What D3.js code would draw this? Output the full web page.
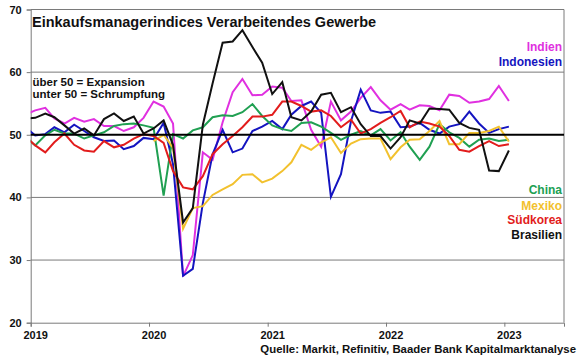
<!DOCTYPE html>
<html><head><meta charset="utf-8">
<script src="https://cdn.jsdelivr.net/npm/d3@7"></script>
<style>
html,body{margin:0;padding:0;background:#fff;}
svg{display:block;font-family:"Liberation Sans",Arial,sans-serif;font-weight:bold;}
</style></head>
<body><svg id="c" width="580" height="359"></svg>
<script>
// Months (mid-month), Dec 2018 .. Jan 2023
const months = [
 "2018-12",
 "2019-01","2019-02","2019-03","2019-04","2019-05","2019-06","2019-07","2019-08","2019-09","2019-10","2019-11","2019-12",
 "2020-01","2020-02","2020-03","2020-04","2020-05","2020-06","2020-07","2020-08","2020-09","2020-10","2020-11","2020-12",
 "2021-01","2021-02","2021-03","2021-04","2021-05","2021-06","2021-07","2021-08","2021-09","2021-10","2021-11","2021-12",
 "2022-01","2022-02","2022-03","2022-04","2022-05","2022-06","2022-07","2022-08","2022-09","2022-10","2022-11","2022-12",
 "2023-01"];
const indien = [53.2,
 53.9,54.3,52.6,51.8,52.7,52.1,52.5,51.4,51.4,50.6,51.2,52.7,
 55.3,54.5,51.8,27.4,30.8,47.2,46.0,52.0,56.8,58.9,56.3,56.4,
 57.7,57.5,55.4,55.5,50.8,48.1,55.3,52.3,53.7,55.9,57.6,55.5,
 54.0,54.9,54.0,54.7,54.6,53.9,56.4,56.2,55.1,55.3,55.7,57.8,
 55.4];
const indonesien = [51.2,
 49.9,50.1,51.2,50.4,51.6,50.6,49.6,49.0,49.1,47.7,48.2,49.5,
 49.3,51.9,45.3,27.5,28.6,39.1,46.9,50.8,47.2,47.8,50.6,51.3,
 52.2,50.9,53.2,54.6,55.3,53.5,40.1,43.7,52.2,57.2,53.9,53.5,
 53.7,51.2,51.3,51.9,50.8,50.2,51.3,51.7,53.7,51.8,50.3,50.9,
 51.3];
const china = [49.7,
 48.3,49.9,50.8,50.2,50.2,49.4,49.9,50.4,51.4,51.7,51.8,51.5,
 51.1,40.3,50.1,49.4,50.7,51.2,52.8,53.1,53.0,53.6,54.9,53.0,
 51.5,50.9,50.6,51.9,52.0,51.3,50.3,49.2,50.0,50.6,49.9,50.9,
 49.1,50.4,48.1,46.0,48.1,51.7,50.4,49.5,48.1,49.2,49.4,49.0,
 49.2];
const mexiko = [null,
 null,null,null,null,null,null,null,null,null,null,null,null,
 49.0,50.0,47.9,35.0,38.3,38.6,40.4,41.3,42.1,43.6,43.7,42.4,
 43.0,44.2,45.6,48.4,47.6,48.8,49.6,47.1,48.6,49.3,49.4,49.4,
 46.1,48.0,49.2,49.3,50.6,52.2,48.5,48.5,50.3,50.3,50.6,51.3,
 48.9];
const suedkorea = [49.8,
 48.3,47.2,48.8,50.2,48.4,47.5,47.3,49.0,48.0,48.4,49.4,50.1,
 49.8,48.7,44.2,41.6,41.3,43.4,46.9,48.5,49.8,51.2,52.9,52.9,
 53.2,55.3,55.3,54.6,53.7,53.9,53.0,51.2,52.4,50.2,50.9,51.9,
 52.8,53.8,51.2,52.1,51.8,51.3,49.8,47.6,47.3,48.2,49.0,48.2,
 48.5];
const brasilien = [52.6,
 52.7,53.4,52.8,51.5,50.2,51.0,49.9,52.5,53.4,52.2,52.9,50.2,
 51.0,52.3,48.4,36.0,38.3,51.6,58.2,64.7,64.9,66.7,64.0,61.5,
 56.5,58.4,52.8,52.3,53.7,56.4,56.7,53.6,54.4,51.7,49.8,49.8,
 47.8,49.6,52.3,51.8,54.2,54.1,54.0,51.9,51.1,50.8,44.3,44.2,
 47.5];
const seriesNames = ["Indien","Indonesien","China","Mexiko","Südkorea","Brasilien"];
const seriesColors = ["#e030e0","#1414c0","#20a052","#f2c12e","#e21c1c","#111111"];
const seriesValues = [indien,indonesien,china,mexiko,suedkorea,brasilien];
const yTicks = [20,30,40,50,60,70];
const xTickYears = ["2019","2020","2021","2022","2023"];
const title = "Einkaufsmanagerindices Verarbeitendes Gewerbe";
const note1 = "über 50 = Expansion";
const note2 = "unter 50 = Schrumpfung";
const source = "Quelle: Markit, Refinitiv, Baader Bank Kapitalmarktanalyse";

const svg = d3.select("#c");
const L = 30.7, R = 564, T = 9.5, B = 322.7;
const parse = d3.timeParse("%Y-%m-%d");
const dates = months.map(m => parse(m + "-15"));
const x = d3.scaleTime().domain([parse("2019-01-01"), parse("2023-07-04")]).range([L, R]);
const y = d3.scaleLinear().domain([20, 70]).range([B, T]);

svg.append("defs").append("clipPath").attr("id","plot")
  .append("rect").attr("x",L).attr("y",T).attr("width",R-L).attr("height",B-T);

// gridlines
svg.append("g").selectAll("line").data(yTicks.filter(v => v !== 20 && v !== 50))
  .join("line").attr("x1",L).attr("x2",R).attr("y1",d=>y(d)).attr("y2",d=>y(d))
  .attr("stroke","#7a7a7a").attr("stroke-width",1);
// right border
svg.append("line").attr("x1",R).attr("x2",R).attr("y1",T).attr("y2",B).attr("stroke","#7a7a7a");

// axes
const yAxis = d3.axisLeft(y).tickValues(yTicks).tickSize(4).tickPadding(5);
const gy = svg.append("g").attr("transform",`translate(${L},0)`).call(yAxis);
gy.select(".domain").attr("stroke","#7a7a7a");
gy.selectAll(".tick line").attr("stroke","#7a7a7a");
gy.selectAll("text").attr("font-size","11px").attr("fill","#111").attr("font-weight","bold")
  .attr("font-family","Liberation Sans, Arial, sans-serif");

const xTickDates = xTickYears.map(s => parse(s + "-01-01"));
const xAxis = d3.axisBottom(x).tickValues(xTickDates).tickFormat(d3.timeFormat("%Y")).tickSize(4).tickPadding(5);
const gx = svg.append("g").attr("transform",`translate(0,${B})`).call(xAxis);
gx.select(".domain").attr("stroke","#7a7a7a");
gx.selectAll(".tick line").attr("stroke","#7a7a7a");
gx.selectAll("text").attr("font-size","11px").attr("fill","#111").attr("font-weight","bold")
  .attr("dx","4.5").attr("font-family","Liberation Sans, Arial, sans-serif");

// series
const line = d3.line().defined(d => d[1] != null).x(d => x(d[0])).y(d => y(d[1]));
const gs = svg.append("g").attr("clip-path","url(#plot)");
seriesValues.forEach((vals, i) => {
  gs.append("path").datum(dates.map((d, j) => [d, vals[j]]))
    .attr("d", line).attr("fill","none").attr("stroke",seriesColors[i])
    .attr("stroke-width",2).attr("stroke-linejoin","miter");
});
// 50 line
svg.append("line").attr("x1",L).attr("x2",R).attr("y1",y(50)).attr("y2",y(50))
  .attr("stroke","#000").attr("stroke-width",2);

// title & notes
svg.append("text").attr("x",32).attr("y",26.7).attr("font-size","14.5px").attr("fill","#111").text(title);
svg.append("text").attr("x",32.5).attr("y",86).attr("font-size","11.5px").attr("fill","#111").text(note1);
svg.append("text").attr("x",32.5).attr("y",97.5).attr("font-size","11.5px").attr("fill","#111").text(note2);

// legend
const legY = [51, 66, 194, 209.5, 224, 239];
seriesNames.forEach((n, i) => {
  svg.append("text").attr("x",562).attr("y",legY[i]).attr("text-anchor","end")
    .attr("font-size","12px").attr("fill",seriesColors[i]).text(n);
});

// source
svg.append("text").attr("x",576).attr("y",352.5).attr("text-anchor","end")
  .attr("font-size","11.4px").attr("fill","#111").text(source);
</script></body></html>
